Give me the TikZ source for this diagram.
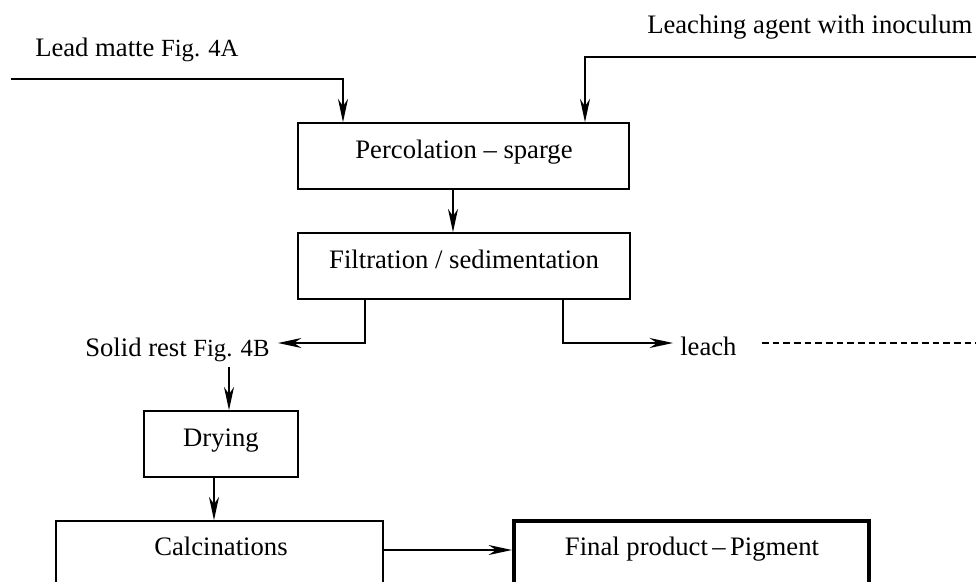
\documentclass[tikz,border=0pt]{standalone}
\usepackage{fontspec}
\setmainfont{Liberation Serif}
\usetikzlibrary{arrows.meta}
\tikzset{
  box/.style={draw, line width=1.2pt, inner sep=0pt},
  finalbox/.style={draw, line width=3pt, inner sep=0pt},
  lbl/.style={inner sep=0pt, font=\fontsize{20}{24}\selectfont},
  flow/.style={line width=1.3pt, -{Stealth[length=17.5pt,width=7.5pt,inset=5.5pt]}},
  dashline/.style={line width=1.1pt, dash pattern=on 5pt off 3pt},
}
\newcommand{\figsz}{\fontsize{18.5}{22}\selectfont}
\begin{document}
\begin{tikzpicture}[x=0.75pt,y=-0.75pt]
\useasboundingbox (0,0) rectangle (976,582);
\clip (0,0) rectangle (976,582);
% boxes
\node[box, minimum width=248.25pt, minimum height=49.5pt] (perc) at (463.5,156) {};
\node[box, minimum width=249pt, minimum height=49.5pt] (filt) at (464,266) {};
\node[box, minimum width=115.5pt, minimum height=49.5pt] (dry) at (221,444) {};
\node[box, minimum width=245.25pt, minimum height=74.25pt] (calc) at (219.5,570.5) {};
\node[finalbox, minimum width=266.25pt, minimum height=74.25pt] (final) at (691.5,570.5) {};
% box texts
\node[lbl, anchor=base] (percT) at (464,158) {Percolation – sparge};
\node[lbl, anchor=base] (filtT) at (464,268) {Filtration / sedimentation};
\node[lbl, anchor=base] (dryT) at (221,446) {Drying};
\node[lbl, anchor=base] (calcT) at (221,555) {Calcinations};
\node[lbl, anchor=base] (finalT) at (692,555) {Final product\,–\,Pigment};
% free labels
\node[lbl, anchor=base west] (leadT) at (35,56) {Lead matte {\figsz Fig. 4A}};
\node[lbl, anchor=base west] (leachInT) at (647,33) {Leaching agent with inoculum};
\node[lbl, anchor=base west] (solidT) at (85,356) {Solid rest {\figsz Fig. 4B}};
\node[lbl, anchor=base west] (leachT) at (680,355) {leach};
% helper coordinates
\coordinate (leadIn) at (11,79);
\coordinate (leachIn) at (976,57);
\coordinate (xLead) at (343,0);
\coordinate (xLeach) at (585,0);
\coordinate (xPF) at (453,0);
\coordinate (xSolid) at (365,0);
\coordinate (xLiq) at (563,0);
\coordinate (solidEnd) at (278,343);
\coordinate (liqEnd) at (673,343);
\coordinate (solidDown) at (229,367);
\coordinate (xDry) at (214,0);
\coordinate (dashA) at (762,343);
\coordinate (dashB) at (976,343);
\coordinate (yCF) at (0,550);
% connectors
\draw[flow] (leadIn) -| (perc.north -| xLead);
\draw[flow] (leachIn) -| (perc.north -| xLeach);
\draw[flow] (perc.south -| xPF) -- (filt.north -| xPF);
\draw[flow] (filt.south -| xSolid) |- (solidEnd);
\draw[flow] (filt.south -| xLiq) |- (liqEnd);
\draw[dashline] (dashA) -- (dashB);
\draw[flow] (solidDown) -- (dry.north -| solidDown);
\draw[flow] (dry.south -| xDry) -- (calc.north -| xDry);
\draw[flow] (calc.east |- yCF) -- (final.west |- yCF);
\end{tikzpicture}
\end{document}
